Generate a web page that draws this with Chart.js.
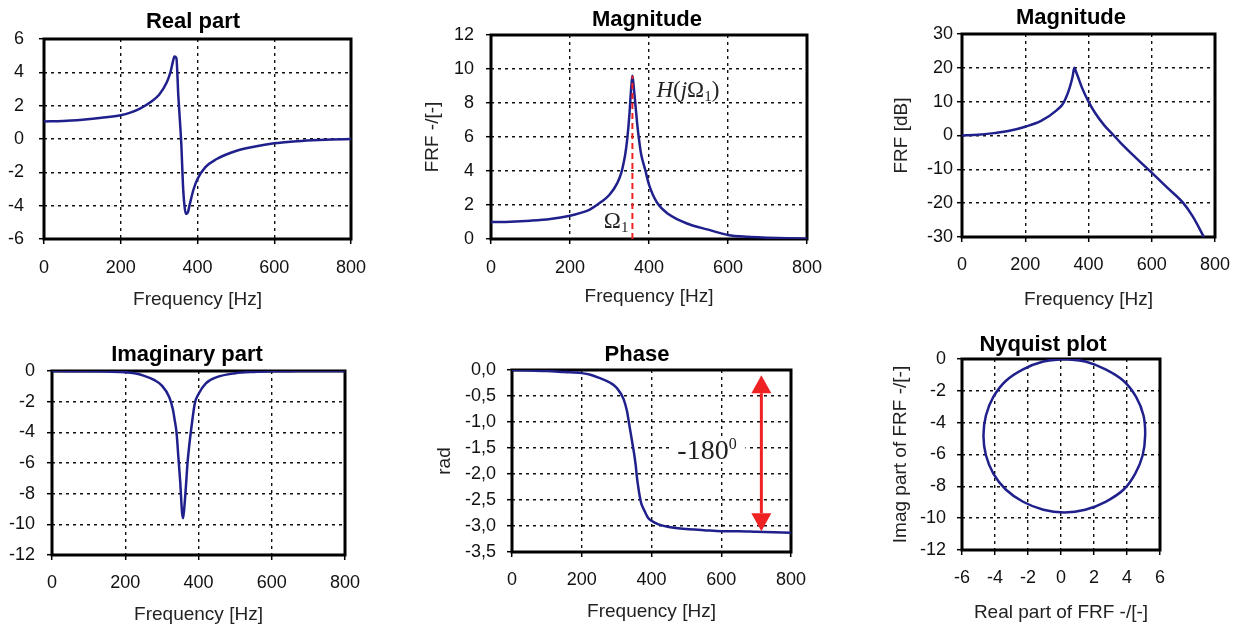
<!DOCTYPE html>
<html lang="en">
<head>
    <meta charset="UTF-8">
    <title>FRF of a single degree of freedom system</title>
    <script src="https://cdn.jsdelivr.net/npm/chart.js"></script>
    <style>
        body { margin: 0; background: #fff; }
        #page { position: relative; width: 1242px; height: 626px; }
        .panel { position: absolute; width: 414px; height: 313px; }
    </style>
</head>
<body>
    <div id="page">
        <div class="panel" style="left:0;top:0"><canvas id="realChart"></canvas></div>
        <div class="panel" style="left:414px;top:0"><canvas id="magChart"></canvas></div>
        <div class="panel" style="left:828px;top:0"><canvas id="dbChart"></canvas></div>
        <div class="panel" style="left:0;top:313px"><canvas id="imagChart"></canvas></div>
        <div class="panel" style="left:414px;top:313px"><canvas id="phaseChart"></canvas></div>
        <div class="panel" style="left:828px;top:313px"><canvas id="nyquistChart"></canvas></div>
    </div>

    <script>
        // Values
        const freqHz      = [0, 50, 100, 150, 200, 225, 250, 280, 300, 320, 330, 335, 340, 345, 350, 355, 358, 362, 366, 370, 375, 380, 390, 400, 420, 450, 500, 550, 600, 650, 700, 750, 800];
        const realPart    = [1.05, 1.08, 1.16, 1.27, 1.42, 1.58, 1.82, 2.25, 2.65, 3.4, 4.05, 4.55, 4.95, 4.85, 2.6, 0.8, -0.4, -2.7, -4.0, -4.5, -4.4, -3.9, -3.0, -2.4, -1.7, -1.2, -0.72, -0.45, -0.26, -0.15, -0.08, -0.03, 0];
        const imagPart    = [0, -0.01, -0.02, -0.04, -0.08, -0.15, -0.3, -0.6, -0.95, -1.7, -2.5, -3.2, -4.0, -5.6, -7.2, -9.2, -9.6, -8.7, -7.4, -6.0, -4.8, -3.8, -2.1, -1.5, -0.8, -0.4, -0.15, -0.06, -0.02, -0.01, 0, 0, 0];
        const magnitude   = [1.0, 1.02, 1.08, 1.18, 1.37, 1.52, 1.73, 2.2, 2.6, 3.3, 3.9, 4.4, 5.0, 5.9, 7.2, 8.9, 9.6, 8.8, 7.8, 6.8, 5.8, 5.0, 4.1, 3.2, 2.15, 1.45, 0.88, 0.55, 0.24, 0.13, 0.08, 0.04, 0.02];
        const phaseRad    = [0, -0.01, -0.02, -0.04, -0.06, -0.09, -0.15, -0.24, -0.34, -0.56, -0.8, -1.0, -1.2, -1.4, -1.6, -1.85, -2.05, -2.25, -2.42, -2.55, -2.64, -2.71, -2.84, -2.9, -2.97, -3.02, -3.06, -3.08, -3.1, -3.1, -3.11, -3.12, -3.13];

        const freqDbHz    = [0, 50, 100, 150, 200, 250, 300, 320, 340, 350, 355, 360, 370, 380, 400, 420, 450, 480, 500, 550, 600, 650, 700, 730, 765];
        const magnitudeDb = [0, 0.2, 0.7, 1.4, 2.6, 4.3, 7.5, 9.5, 14, 17.5, 20, 19, 16.5, 14, 10, 6.8, 3, 0, -2, -6.6, -11, -15.5, -20, -24, -30];

        const nyquistReal = [0.2, 1.47, 2.7, 3.8, 4.55, 5.0, 5.1, 4.95, 4.5, 3.8, 2.7, 1.47, 0.2, -1.07, -2.3, -3.35, -4.1, -4.55, -4.7, -4.55, -4.1, -3.35, -2.3, -1.07, 0.2];
        const nyquistImag = [0, -0.16, -0.65, -1.38, -2.38, -3.55, -4.8, -6.05, -7.2, -8.2, -8.97, -9.47, -9.64, -9.47, -8.97, -8.2, -7.2, -6.05, -4.8, -3.55, -2.38, -1.38, -0.65, -0.16, 0];

        // resonance marker and the -180 degree arrow
        const omega1Hz = 358;
        const peakMagnitude = 9.6;
        const phaseArrowHz = 715;
        const phaseArrowRad = [-0.1, -3.1];

        // tick values
        const freqTicks  = [0, 200, 400, 600, 800];
        const realTicks  = [-6, -4, -2, 0, 2, 4, 6];
        const magTicks   = [0, 2, 4, 6, 8, 10, 12];
        const dbTicks    = [-30, -20, -10, 0, 10, 20, 30];
        const imagTicks  = [-12, -10, -8, -6, -4, -2, 0];
        const phaseTicks = [-3.5, -3, -2.5, -2, -1.5, -1, -0.5, 0];
        const nyqReTicks = [-6, -4, -2, 0, 2, 4, 6];

        const SANS = '"Liberation Sans", Arial, sans-serif';
        const SERIF = '"Liberation Serif", "Times New Roman", serif';
        const LINE_BLUE = 'rgb(32, 32, 140)';
        const RED = '#ee2222';
        const PANEL_W = 414, PANEL_H = 313;

        function pairs(xs, ys) {
            return xs.map((x, i) => ({ x: x, y: ys[i] }));
        }

        // linear axis with fixed box size so the plot frame lands where we want it
        function axis(ticks, o) {
            return {
                type: 'linear',
                min: ticks[0],
                max: ticks[ticks.length - 1],
                afterBuildTicks: s => { s.ticks = ticks.map(v => ({ value: v })); },
                afterFit: s => {
                    if (s.isHorizontal()) s.height = o.size; else s.width = o.size;
                    s.paddingLeft = s.paddingRight = s.paddingTop = s.paddingBottom = 0;
                },
                grid: { color: '#111', lineWidth: 1.4, tickLength: 5, tickColor: '#000', tickWidth: 1.5, tickBorderDash: [] },
                border: { display: false, dash: [3, 4] },
                ticks: {
                    color: '#111',
                    padding: o.pad,
                    font: { family: SANS, size: 18 },
                    callback: o.fmt || (v => String(v))
                },
                title: {
                    display: !!o.title,
                    text: o.title || '',
                    color: '#222',
                    padding: 0,
                    font: { family: SANS, size: 19 }
                }
            };
        }

        function curve(points, extra) {
            return Object.assign({
                data: points,
                borderColor: LINE_BLUE,
                borderWidth: 2.5,
                pointRadius: 0,
                fill: false,
                cubicInterpolationMode: 'monotone'
            }, extra || {});
        }

        // thick black frame round the plot area
        const framePlugin = {
            id: 'frame',
            beforeDatasetsDraw(chart) {
                const { ctx, chartArea: a } = chart;
                ctx.save();
                ctx.strokeStyle = '#000';
                ctx.lineWidth = 3;
                ctx.strokeRect(a.left, a.top, a.right - a.left, a.bottom - a.top);
                ctx.restore();
            }
        };

        // bold panel title (sits slightly off centre in the original)
        const headingPlugin = {
            id: 'heading',
            afterDraw(chart, args, opts) {
                if (!opts.text) return;
                const ctx = chart.ctx;
                ctx.save();
                ctx.font = 'bold 22px ' + SANS;
                ctx.fillStyle = '#000';
                ctx.textAlign = 'center';
                ctx.textBaseline = 'middle';
                ctx.fillText(opts.text, opts.x, opts.y);
                ctx.restore();
            }
        };

        // draw a row of text pieces (for sub/superscripts)
        function drawRuns(ctx, x, y, runs, alignRight) {
            ctx.save();
            ctx.fillStyle = '#222';
            ctx.textAlign = 'left';
            ctx.textBaseline = 'alphabetic';
            let total = 0;
            runs.forEach(r => { ctx.font = r.font; total += ctx.measureText(r.text).width; });
            let cx = alignRight ? x - total : x;
            runs.forEach(r => {
                ctx.font = r.font;
                ctx.fillText(r.text, cx, y + (r.dy || 0));
                cx += ctx.measureText(r.text).width;
            });
            ctx.restore();
        }

        const magnitudeLabels = {
            id: 'magnitudeLabels',
            afterDatasetsDraw(chart) {
                const { ctx, scales: { x, y } } = chart;
                const px = x.getPixelForValue(omega1Hz);
                drawRuns(ctx, px + 24, y.getPixelForValue(peakMagnitude) + 21, [
                    { text: 'H', font: 'italic 23px ' + SERIF },
                    { text: '(', font: '23px ' + SERIF },
                    { text: 'j', font: 'italic 23px ' + SERIF },
                    { text: '\u03A9', font: '23px ' + SERIF },
                    { text: '1', font: '15px ' + SERIF, dy: 4 },
                    { text: ')', font: '23px ' + SERIF }
                ]);
                drawRuns(ctx, px - 4, y.getPixelForValue(0) - 11, [
                    { text: '\u03A9', font: '23px ' + SERIF },
                    { text: '1', font: '15px ' + SERIF, dy: 4 }
                ], true);
            }
        };

        const phaseArrow = {
            id: 'phaseArrow',
            afterDatasetsDraw(chart) {
                const { ctx, scales: { x, y } } = chart;
                const ax = x.getPixelForValue(phaseArrowHz);
                const yTop = y.getPixelForValue(phaseArrowRad[0]);
                const yBot = y.getPixelForValue(phaseArrowRad[1]);
                const head = 18, half = 10;

                ctx.save();
                ctx.strokeStyle = RED;
                ctx.fillStyle = RED;
                ctx.lineWidth = 3;
                ctx.beginPath();
                ctx.moveTo(ax, yTop + head);
                ctx.lineTo(ax, yBot - head);
                ctx.stroke();
                ctx.beginPath();
                ctx.moveTo(ax, yTop);
                ctx.lineTo(ax - half, yTop + head);
                ctx.lineTo(ax + half, yTop + head);
                ctx.closePath();
                ctx.fill();
                ctx.beginPath();
                ctx.moveTo(ax, yBot);
                ctx.lineTo(ax - half, yBot - head);
                ctx.lineTo(ax + half, yBot - head);
                ctx.closePath();
                ctx.fill();

                // "-180°" label on a white patch over the grid
                const ty = y.getPixelForValue(-1.5);
                ctx.fillStyle = '#fff';
                ctx.fillRect(ax - 89, ty - 12, 73, 26);
                ctx.restore();
                drawRuns(ctx, ax - 84, ty + 11, [
                    { text: '-180', font: '28px ' + SERIF },
                    { text: '0', font: '16px ' + SERIF, dy: -10 }
                ]);
            }
        };

        function panel(id, spec) {
            const a = spec.area;
            return new Chart(document.getElementById(id), {
                type: 'line',
                data: { datasets: spec.datasets },
                options: {
                    responsive: true,
                    maintainAspectRatio: false,
                    animation: false,
                    events: [],
                    layout: {
                        padding: {
                            left: a.l - spec.ySize,
                            top: a.t,
                            right: PANEL_W - a.r,
                            bottom: PANEL_H - a.b - spec.xSize
                        }
                    },
                    scales: { x: spec.x, y: spec.y },
                    plugins: {
                        legend: { display: false },
                        tooltip: { enabled: false },
                        heading: spec.heading
                    }
                },
                plugins: [framePlugin, headingPlugin].concat(spec.extra || [])
            });
        }

        // Real part
        panel('realChart', {
            area: { l: 44, t: 39, r: 351, b: 239 }, xSize: 72, ySize: 44,
            x: axis(freqTicks, { size: 72, pad: 13, title: 'Frequency [Hz]' }),
            y: axis(realTicks, { size: 44, pad: 15 }),
            heading: { text: 'Real part', x: 193, y: 22 },
            datasets: [curve(pairs(freqHz, realPart))]
        });

        // Magnitude (linear)
        panel('magChart', {
            area: { l: 77, t: 35, r: 393, b: 239 }, xSize: 69, ySize: 70,
            x: axis(freqTicks, { size: 69, pad: 13, title: 'Frequency [Hz]' }),
            y: axis(magTicks, { size: 70, pad: 12, title: 'FRF -/[-]' }),
            heading: { text: 'Magnitude', x: 233, y: 20 },
            datasets: [
                curve([{ x: omega1Hz, y: 0 }, { x: omega1Hz, y: peakMagnitude }],
                      { borderColor: RED, borderWidth: 2, borderDash: [6, 4], cubicInterpolationMode: 'default' }),
                curve(pairs(freqHz, magnitude))
            ],
            extra: [magnitudeLabels]
        });

        // Magnitude (dB)
        panel('dbChart', {
            area: { l: 134, t: 34, r: 387, b: 237 }, xSize: 74, ySize: 72,
            x: axis(freqTicks, { size: 74, pad: 12, title: 'Frequency [Hz]' }),
            y: axis(dbTicks, { size: 72, pad: 4, title: 'FRF [dB]' }),
            heading: { text: 'Magnitude', x: 243, y: 18 },
            datasets: [curve(pairs(freqDbHz, magnitudeDb))]
        });

        // Imaginary part
        panel('imagChart', {
            area: { l: 52, t: 58, r: 345, b: 242 }, xSize: 71, ySize: 52,
            x: axis(freqTicks, { size: 71, pad: 12, title: 'Frequency [Hz]' }),
            y: axis(imagTicks, { size: 52, pad: 12 }),
            heading: { text: 'Imaginary part', x: 187, y: 42 },
            datasets: [curve(pairs(freqHz, imagPart))]
        });

        // Phase
        panel('phaseChart', {
            area: { l: 98, t: 57, r: 377, b: 239 }, xSize: 71, ySize: 79,
            x: axis(freqTicks, { size: 71, pad: 12, title: 'Frequency [Hz]' }),
            y: axis(phaseTicks, { size: 79, pad: 11, title: 'rad', fmt: v => v.toFixed(1).replace('.', ',') }),
            heading: { text: 'Phase', x: 223, y: 42 },
            datasets: [curve(pairs(freqHz, phaseRad))],
            extra: [phaseArrow]
        });

        // Nyquist plot
        panel('nyquistChart', {
            area: { l: 134, t: 46, r: 332, b: 237 }, xSize: 74, ySize: 73,
            x: axis(nyqReTicks, { size: 74, pad: 12, title: 'Real part of FRF -/[-]' }),
            y: axis(imagTicks, { size: 73, pad: 11, title: 'Imag part of FRF -/[-]' }),
            heading: { text: 'Nyquist plot', x: 215, y: 32 },
            datasets: [curve(pairs(nyquistReal, nyquistImag), { cubicInterpolationMode: 'default', tension: 0.4 })]
        });
    </script>
</body>
</html>
